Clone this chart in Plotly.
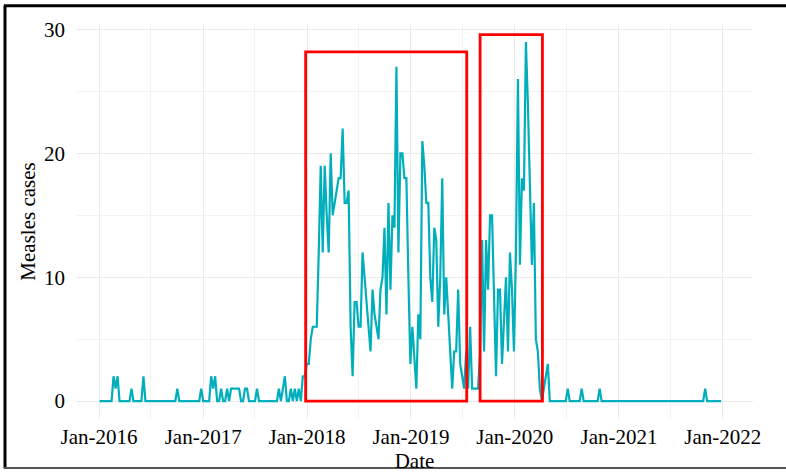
import pandas as pd
import plotly.graph_objects as go

# ---------------- data (weekly measles cases) ----------------
start_week = "2016-01-03"

cases_2016 = [0, 0, 0, 0, 0, 0, 0, 2, 1, 2,
              0, 0, 0, 0, 0, 0, 1, 0, 0, 0,
              0, 0, 2, 0, 0, 0, 0, 0, 0, 0,
              0, 0, 0, 0, 0, 0, 0, 0, 0, 1,
              0, 0, 0, 0, 0, 0, 0, 0, 0, 0,
              0, 1]
cases_2017 = [0, 0, 0, 0, 2, 1, 2, 0, 0, 1,
              0, 0, 1, 0, 1, 1, 1, 1, 1, 0,
              0, 1, 1, 0, 0, 0, 0, 1, 0, 0,
              0, 0, 0, 0, 0, 0, 0, 0, 1, 0,
              1, 2, 0, 0, 1, 0, 1, 0, 1, 0,
              2, 2, 3]
cases_2018 = [3, 5, 6, 6, 6, 12, 19, 12, 19, 15,
              12, 20, 15, 16, 17, 18, 18, 22, 16, 16,
              17, 6, 2, 8, 8, 6, 6, 12, 10, 8,
              6, 4, 9, 7, 6, 5, 9, 10, 14, 7,
              16, 9, 15, 14, 27, 12, 20, 20, 18, 18,
              10, 3]
cases_2019 = [6, 3, 1, 7, 5, 21, 19, 16, 16, 10,
              8, 14, 13, 6, 10, 18, 7, 10, 7, 4,
              1, 4, 4, 9, 3, 2, 1, 4, 1, 6,
              1, 1, 1, 1, 4, 13, 4, 13, 9, 15,
              15, 9, 2, 9, 9, 3, 6, 10, 4, 12,
              9, 4]
cases_2020 = [12, 26, 11, 18, 17, 29, 24, 17, 11, 16,
              5, 4, 1, 0, 1, 2, 3, 0, 0, 0,
              0, 0, 0, 0, 0, 0, 1, 0, 0, 0,
              0, 0, 0, 1, 0, 0, 0, 0, 0, 0,
              0, 0, 1, 0, 0, 0, 0, 0, 0, 0,
              0, 0]
cases_2021 = [0, 0, 0, 0, 0, 0, 0, 0, 0, 0,
              0, 0, 0, 0, 0, 0, 0, 0, 0, 0,
              0, 0, 0, 0, 0, 0, 0, 0, 0, 0,
              0, 0, 0, 0, 0, 0, 0, 0, 0, 0,
              0, 0, 0, 1, 0, 0, 0, 0, 0, 0,
              0, 0]

# highlighted outbreak periods
highlight_start = ["2017-12-27", "2019-09-01"]
highlight_end = ["2019-07-16", "2020-04-07"]
highlight_top = [28.2, 29.6]

x_title = "Date"
y_title = "Measles cases"

# ---------------- figure ----------------
cases = cases_2016 + cases_2017 + cases_2018 + cases_2019 + cases_2020 + cases_2021
dates = pd.date_range(start_week, periods=len(cases), freq="7D")

W, H = 786, 476
ml, mr, mt, mb = 76, 33, 24, 52
FONT = "Liberation Serif, Times New Roman, serif"
FS = 21

fig = go.Figure()
fig.add_trace(go.Scatter(x=dates, y=cases, mode="lines",
                         line=dict(color="#00AFBB", width=2.2),
                         showlegend=False, hoverinfo="x+y"))

for x0, x1, y1 in zip(highlight_start, highlight_end, highlight_top):
    fig.add_shape(type="rect", xref="x", yref="y", x0=x0, x1=x1, y0=0, y1=y1,
                  line=dict(color="#FF0000", width=2.8),
                  fillcolor="rgba(0,0,0,0)", layer="above")

# outer frame of the picture (in pixel -> paper coordinates)
pw, ph = W - ml - mr, H - mt - mb
def px(x):
    return (x - ml) / pw
def py(y):
    return (H - mb - y) / ph

fig.add_shape(type="line", xref="paper", yref="paper",
              x0=px(5), x1=px(5), y0=py(5), y1=py(474),
              line=dict(color="black", width=3))
fig.add_shape(type="line", xref="paper", yref="paper",
              x0=px(4), x1=px(790), y0=py(5.5), y1=py(5.5),
              line=dict(color="black", width=3))
fig.add_shape(type="line", xref="paper", yref="paper",
              x0=px(4), x1=px(790), y0=py(473.5), y1=py(473.5),
              line=dict(color="#555555", width=2))

fig.update_layout(
    width=W, height=H,
    margin=dict(l=ml, r=mr, t=mt, b=mb, pad=0),
    paper_bgcolor="white", plot_bgcolor="white",
    font=dict(family=FONT, size=FS, color="black"),
    xaxis=dict(
        type="date",
        range=["2015-10-12", "2022-04-17"],
        tick0="2016-01-01", dtick="M12", tickformat="%b-%Y",
        showgrid=True, gridcolor="#EBEBEB", gridwidth=1,
        minor=dict(dtick="M6", tick0="2016-01-01", showgrid=True,
                   gridcolor="#F3F3F3", gridwidth=0.8),
        zeroline=False, showline=False, ticks="",
        tickfont=dict(family=FONT, size=FS, color="black"),
        ticklabelstandoff=3,
        title=dict(text=x_title, font=dict(family=FONT, size=FS, color="black"),
                   standoff=0),
    ),
    yaxis=dict(
        range=[-1.45, 30.45],
        tick0=0, dtick=10,
        showgrid=True, gridcolor="#EBEBEB", gridwidth=1,
        minor=dict(dtick=5, tick0=0, showgrid=True,
                   gridcolor="#F3F3F3", gridwidth=0.8),
        zeroline=False, showline=False, ticks="",
        tickfont=dict(family=FONT, size=FS, color="black"),
        ticklabelstandoff=10,
        title=dict(text=y_title, font=dict(family=FONT, size=FS, color="black"),
                   standoff=2),
    ),
)

fig.write_html("out.html",
               config={"displayModeBar": False},
               post_script="document.body.style.margin='0';"
                           "document.body.style.padding='0';"
                           "document.body.style.overflow='hidden';")
